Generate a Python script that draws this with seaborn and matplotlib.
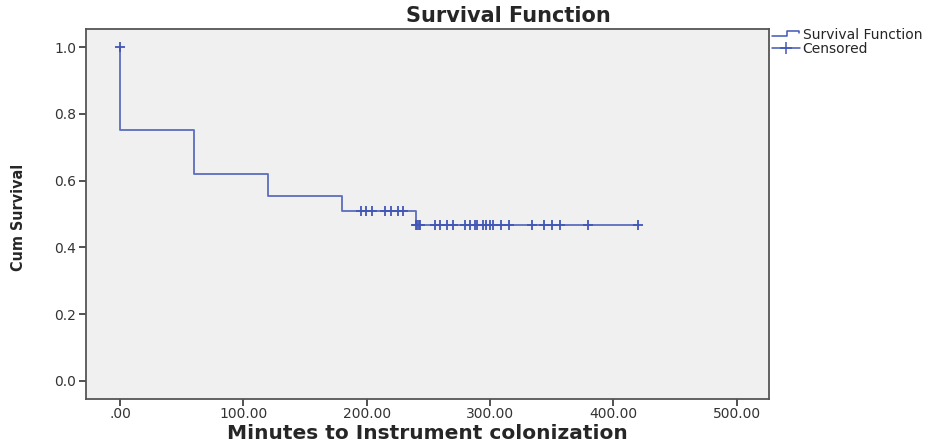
import numpy as np
import pandas as pd
import seaborn as sns
import matplotlib
matplotlib.use("Agg")
import matplotlib.pyplot as plt
from matplotlib.lines import Line2D
from matplotlib.legend_handler import HandlerBase

# survival function (Kaplan-Meier steps)
step_times = [0, 0, 60, 120, 180, 240, 420]
step_surv = [1.0, 0.752, 0.620, 0.554, 0.509, 0.467, 0.467]

# censored cases (minutes)
censored_times = [0,
                  195, 199, 204, 215, 220, 225, 229,
                  240, 241, 242, 243, 255, 259, 265, 270, 280, 284, 288, 289,
                  294, 297, 300, 302, 309, 315, 334, 344, 350, 357, 379, 420]

x_ticks = [0, 100, 200, 300, 400, 500]
x_ticklabels = [".00", "100.00", "200.00", "300.00", "400.00", "500.00"]
y_ticks = [0.0, 0.2, 0.4, 0.6, 0.8, 1.0]
y_ticklabels = ["0.0", "0.2", "0.4", "0.6", "0.8", "1.0"]

line_color = "#4257b5"

sns.set_style("white")
plt.rcParams["font.family"] = ["DejaVu Sans"]

# survival value at each censored time (value just after the step)
steps = pd.DataFrame({"time": step_times, "surv": step_surv})
idx = np.searchsorted(np.array(step_times[1:]), censored_times, side="right")
cens = pd.DataFrame({"time": censored_times,
                     "surv": [step_surv[i] if t > 0 else 1.0 for i, t in zip(idx, censored_times)]})

fig = plt.figure(figsize=(9.52, 4.45), dpi=100)
ax = fig.add_axes([0.0903, 0.1034, 0.7174, 0.8315])
ax.set_facecolor("#f0f0f0")

sns.lineplot(data=steps, x="time", y="surv", ax=ax, estimator=None, sort=False,
             drawstyle="steps-post", color=line_color, linewidth=1.3, alpha=0.85)
sns.scatterplot(data=cens, x="time", y="surv", ax=ax, marker="+", s=60,
                color=line_color, linewidth=1.3, zorder=3)

ax.set_xlim(-27.6, 526)
ax.set_ylim(-0.054, 1.054)
ax.set_xticks(x_ticks)
ax.set_xticklabels(x_ticklabels)
ax.set_yticks(y_ticks)
ax.set_yticklabels(y_ticklabels)
ax.tick_params(direction="out", length=5, width=1.2, color="#333333",
               labelcolor="#333333", labelsize=10, bottom=True, left=True)
ax.tick_params(axis="x", pad=1)
ax.tick_params(axis="y", pad=2)
for sp in ax.spines.values():
    sp.set_color("#555555")
    sp.set_linewidth(1.3)

ax.set_xlabel("Minutes to Instrument colonization", fontsize=14.5, fontweight="bold")
ax.xaxis.set_label_coords(0.5, -0.068)
ax.set_ylabel("Cum Survival", fontsize=11.5, fontweight="bold", fontstretch="condensed",
              family=["DejaVu Sans"])
ax.yaxis.set_label_coords(-0.088, 0.49)

fig.text(0.534, 0.964, "Survival Function", ha="center", va="center",
         fontsize=15, fontweight="bold")


# legend: step-shaped icon for the survival function
class StepHandler(HandlerBase):
    def create_artists(self, legend, orig_handle, xdescent, ydescent,
                       width, height, fontsize, trans):
        lo = 0.3 * height - ydescent
        hi = 0.8 * height - ydescent
        xs = [-xdescent, 0.55 * width, 0.55 * width, 0.97 * width, 0.97 * width]
        ys = [lo, lo, hi, hi, hi - 0.15 * height]
        ln = Line2D(xs, ys, color=orig_handle.get_color(), linewidth=1.1, transform=trans)
        return [ln]


h_surv = Line2D([], [], color=line_color)
h_cens = Line2D([0], [0], color=line_color, marker="+", markersize=9, linewidth=1.1,
                markeredgewidth=1.1)
fig.legend([h_surv, h_cens], ["Survival Function", "Censored"],
           handler_map={h_surv: StepHandler()},
           loc="upper left", bbox_to_anchor=(772 / 952, 1 - 28 / 445),
           frameon=False, fontsize=10, handlelength=2.0, handletextpad=0.2,
           labelspacing=0.0, borderpad=0, borderaxespad=0, numpoints=1)

fig.savefig("out.png", dpi=100)
